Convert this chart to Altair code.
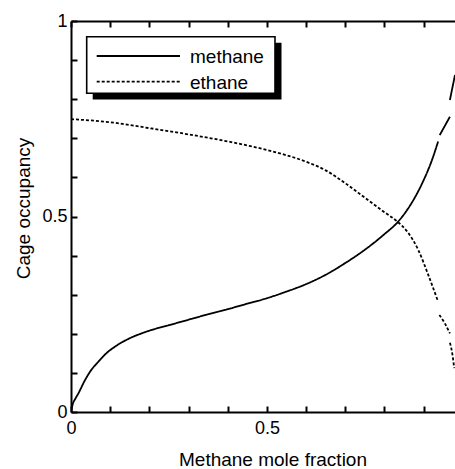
import altair as alt
import pandas as pd

# ---------------- data ----------------
series_names = ["methane", "ethane"]

# methane (solid) – drawn in three pieces (gaps in the original drawing)
methane_x1 = [0, 0.005, 0.01, 0.019, 0.036, 0.05, 0.07, 0.09, 0.112, 0.135, 0.155,
              0.18, 0.2, 0.25, 0.3, 0.35, 0.4, 0.45, 0.5, 0.55, 0.6, 0.65, 0.7,
              0.75, 0.8, 0.835, 0.86, 0.88, 0.9, 0.92, 0.937]
methane_y1 = [0, 0.022, 0.032, 0.048, 0.082, 0.105, 0.129, 0.15, 0.167, 0.181, 0.191,
              0.201, 0.208, 0.222, 0.236, 0.25, 0.263, 0.277, 0.291, 0.308, 0.327,
              0.351, 0.381, 0.415, 0.455, 0.487, 0.52, 0.553, 0.593, 0.641, 0.692]
methane_x2 = [0.941, 0.967]
methane_y2 = [0.708, 0.755]
methane_x3 = [0.967, 0.98]
methane_y3 = [0.798, 0.862]

# ethane (dashed)
ethane_x1 = [0, 0.1, 0.2, 0.3, 0.4, 0.5, 0.6, 0.65, 0.7, 0.75, 0.8, 0.833,
             0.86, 0.886, 0.912, 0.937]
ethane_y1 = [0.749, 0.741, 0.726, 0.71, 0.692, 0.67, 0.64, 0.618, 0.585, 0.548,
             0.511, 0.487, 0.459, 0.415, 0.35, 0.282]
ethane_x2 = [0.94, 0.954, 0.967]
ethane_y2 = [0.248, 0.227, 0.201]
ethane_x3 = [0.967, 0.973, 0.978]
ethane_y3 = [0.177, 0.15, 0.112]

labelled_values = [0, 0.5, 1]
x_tick_values = [0, 0.1, 0.2, 0.3, 0.4, 0.5, 0.6, 0.7, 0.8, 0.9]
y_tick_values = [0, 0.1, 0.2, 0.3, 0.4, 0.5, 0.6, 0.7, 0.8, 0.9, 1]

x_title = "Methane mole fraction"
y_title = "Cage occupancy"

# ---------------- build tables ----------------
rows = []
pieces = [
    ("methane", 1, methane_x1, methane_y1),
    ("methane", 2, methane_x2, methane_y2),
    ("methane", 3, methane_x3, methane_y3),
    ("ethane", 1, ethane_x1, ethane_y1),
    ("ethane", 2, ethane_x2, ethane_y2),
    ("ethane", 3, ethane_x3, ethane_y3),
]
for name, seg, xs, ys in pieces:
    for xv, yv in zip(xs, ys):
        rows.append({"series": name, "key": f"{name}-{seg}", "x": xv, "y": yv})
df = pd.DataFrame(rows)

W, H = 384, 391
FONT = "Liberation Sans"
INWARD = {"expr": "-6"}   # inward-pointing ticks
TCOL = "black"
label_expr = ("indexof([" + ",".join(str(v) for v in labelled_values)
              + "], datum.value) >= 0 ? datum.label : ''")

xscale = alt.Scale(domain=[0, 0.98], nice=False, zero=False)
yscale = alt.Scale(domain=[0, 1], nice=False, zero=False)

x_axis = alt.Axis(
    orient="bottom", values=x_tick_values, format="~g", labelExpr=label_expr,
    ticks=True, tickSize=INWARD, tickWidth=2, tickColor=TCOL, tickOpacity=1,
    grid=False, domainWidth=2, domainColor="black", labelFlush=False,
    labelOverlap=False, labelFontSize=18, labelPadding=13,
    title=x_title, titleFontSize=19, titleFontWeight="normal",
    titleX=201.5, titleY=53, titleBaseline="alphabetic", titleAlign="center")
y_axis = alt.Axis(
    orient="left", values=y_tick_values, format="~g", labelExpr=label_expr,
    ticks=True, tickSize=INWARD, tickWidth=2, tickColor=TCOL, tickOpacity=1,
    grid=False, domainWidth=2, domainColor="black", labelFlush=False,
    labelOverlap=False, labelFontSize=18, labelPadding=10,
    title=y_title, titleFontSize=19, titleFontWeight="normal",
    titleX=-42, titleY=187, titleBaseline="alphabetic", titleAlign="center")
top_axis = alt.Axis(
    orient="top", values=x_tick_values, labels=False, title=None,
    ticks=True, tickSize=INWARD, tickWidth=2, tickColor=TCOL, tickOpacity=1,
    grid=False, domainWidth=2, domainColor="black")

lines = alt.Chart(df).mark_line(
    clip=True, strokeWidth=1.8, color="black", interpolate="monotone").encode(
    x=alt.X("x:Q", scale=xscale, axis=x_axis),
    y=alt.Y("y:Q", scale=yscale, axis=y_axis),
    strokeDash=alt.StrokeDash("series:N", scale=alt.Scale(
        domain=series_names, range=[[1, 0], [3, 2]]), legend=None),
    detail="key:N",
)

# invisible helper layer that carries the top frame axis
top_frame = alt.Chart(df).mark_point(opacity=0).encode(
    x=alt.X("x:Q", scale=xscale, axis=top_axis),
    y=alt.Y("y:Q", scale=yscale, axis=y_axis),
)

one = pd.DataFrame({"n": [0]})
shadow = alt.Chart(one).mark_rect(color="black").encode(
    x=alt.value(21.7), x2=alt.value(210.5), y=alt.value(21.7), y2=alt.value(78.5))
box = alt.Chart(one).mark_rect(fill="white", stroke="black", strokeWidth=1.6).encode(
    x=alt.value(15.7), x2=alt.value(204), y=alt.value(15.7), y2=alt.value(72.3))

leg_layers = []
dashes = [[1, 0], [3, 2]]
ys_leg = [35, 60.7]
for i, name in enumerate(series_names):
    ldf = pd.DataFrame({"name": [name]})
    leg_layers.append(alt.Chart(ldf).mark_rule(
        strokeWidth=1.8, color="black", strokeDash=dashes[i]).encode(
        x=alt.value(25.7), x2=alt.value(109), y=alt.value(ys_leg[i])))
    leg_layers.append(alt.Chart(ldf).mark_text(
        align="left", baseline="middle", fontSize=19, font=FONT,
        color="black").encode(
        x=alt.value(119), y=alt.value(ys_leg[i] + 1), text="name:N"))

chart = alt.layer(
    lines, top_frame, shadow, box, *leg_layers
).resolve_axis(x="independent").properties(
    width=W, height=H,
    autosize=alt.AutoSizeParams(type="none"),
    padding={"left": 71, "top": 21, "right": 0, "bottom": 57},
    background="white",
).configure_axis(
    labelFont=FONT, titleFont=FONT, labelColor="black", titleColor="black",
).configure_view(stroke=None)

chart.save("out.html", embed_options={"renderer": "svg", "actions": False})
